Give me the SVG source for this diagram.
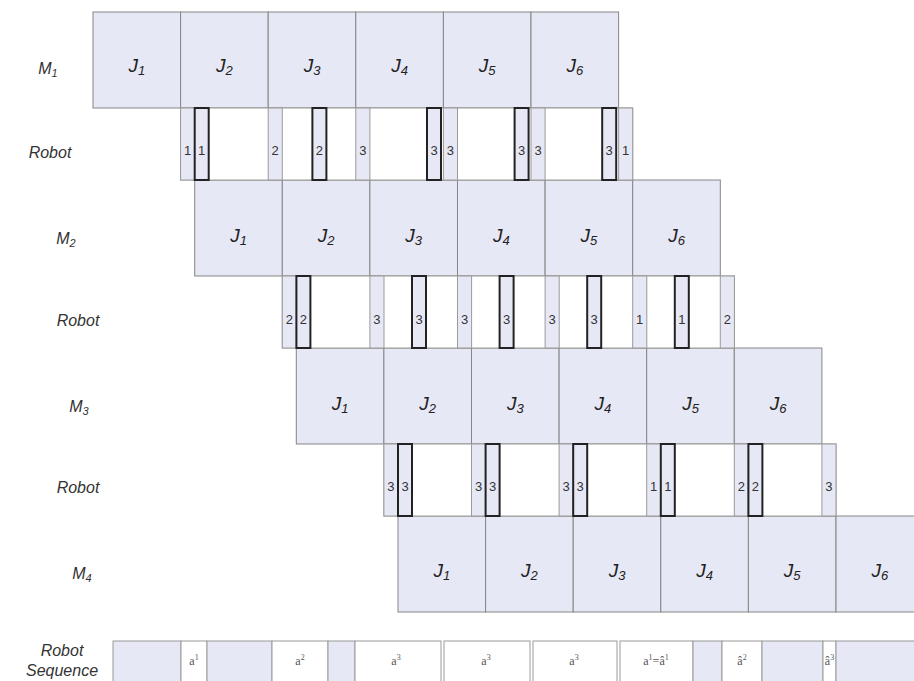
<svg xmlns="http://www.w3.org/2000/svg" width="914" height="681" viewBox="0 0 914 681">
<style>
.cell{fill:#e7e8f5;stroke:#858585;stroke-width:1}
.lt{fill:#e7e8f5;stroke:#9a9a9a;stroke-width:1}
.wt{fill:#ffffff;stroke:#9a9a9a;stroke-width:1}
.dk{fill:#e7e8f5;stroke:#222;stroke-width:2}
.lab{font-family:"Liberation Sans",Arial,sans-serif;font-style:italic;font-size:16px;fill:#333;text-anchor:middle}
.j{font-family:"Liberation Sans",Arial,sans-serif;font-style:italic;font-size:19px;fill:#222;text-anchor:middle}
.n{font-family:"Liberation Sans",Arial,sans-serif;font-size:13px;fill:#333;text-anchor:middle}
.sq{font-family:"Liberation Serif","Times New Roman",serif;font-size:12px;fill:#555;text-anchor:middle}
</style>
<rect width="914" height="681" fill="#ffffff"/>

<!-- Row labels -->
<g id="labels">
<text class="lab" x="48" y="74">M<tspan font-size="11" dy="3">1</tspan></text>
<text class="lab" x="50" y="158">Robot</text>
<text class="lab" x="66" y="244">M<tspan font-size="11" dy="3">2</tspan></text>
<text class="lab" x="78" y="326">Robot</text>
<text class="lab" x="79" y="412">M<tspan font-size="11" dy="3">3</tspan></text>
<text class="lab" x="78" y="493">Robot</text>
<text class="lab" x="82" y="579">M<tspan font-size="11" dy="3">4</tspan></text>
<text class="lab" x="62" y="656">Robot</text>
<text class="lab" x="62" y="676">Sequence</text>
</g>

<!-- Machine M1 -->
<g id="M1">
<rect class="cell" x="93" y="12" width="87.6" height="96"/>
<rect class="cell" x="180.6" y="12" width="87.6" height="96"/>
<rect class="cell" x="268.2" y="12" width="87.6" height="96"/>
<rect class="cell" x="355.8" y="12" width="87.6" height="96"/>
<rect class="cell" x="443.4" y="12" width="87.6" height="96"/>
<rect class="cell" x="531" y="12" width="87.6" height="96"/>
<text class="j" x="136.8" y="72">J<tspan font-size="13" dy="3">1</tspan></text>
<text class="j" x="224.4" y="72">J<tspan font-size="13" dy="3">2</tspan></text>
<text class="j" x="312" y="72">J<tspan font-size="13" dy="3">3</tspan></text>
<text class="j" x="399.6" y="72">J<tspan font-size="13" dy="3">4</tspan></text>
<text class="j" x="487.2" y="72">J<tspan font-size="13" dy="3">5</tspan></text>
<text class="j" x="574.8" y="72">J<tspan font-size="13" dy="3">6</tspan></text>
</g>

<!-- Machine M2 -->
<g id="M2">
<rect class="cell" x="194.7" y="180" width="87.6" height="96"/>
<rect class="cell" x="282.3" y="180" width="87.6" height="96"/>
<rect class="cell" x="369.9" y="180" width="87.6" height="96"/>
<rect class="cell" x="457.5" y="180" width="87.6" height="96"/>
<rect class="cell" x="545.1" y="180" width="87.6" height="96"/>
<rect class="cell" x="632.7" y="180" width="87.6" height="96"/>
<text class="j" x="238.5" y="242">J<tspan font-size="13" dy="3">1</tspan></text>
<text class="j" x="326.1" y="242">J<tspan font-size="13" dy="3">2</tspan></text>
<text class="j" x="413.7" y="242">J<tspan font-size="13" dy="3">3</tspan></text>
<text class="j" x="501.3" y="242">J<tspan font-size="13" dy="3">4</tspan></text>
<text class="j" x="588.9" y="242">J<tspan font-size="13" dy="3">5</tspan></text>
<text class="j" x="676.5" y="242">J<tspan font-size="13" dy="3">6</tspan></text>
</g>

<!-- Machine M3 -->
<g id="M3">
<rect class="cell" x="296.3" y="348" width="87.6" height="96"/>
<rect class="cell" x="383.9" y="348" width="87.6" height="96"/>
<rect class="cell" x="471.5" y="348" width="87.6" height="96"/>
<rect class="cell" x="559.1" y="348" width="87.6" height="96"/>
<rect class="cell" x="646.7" y="348" width="87.6" height="96"/>
<rect class="cell" x="734.3" y="348" width="87.6" height="96"/>
<text class="j" x="340.1" y="410">J<tspan font-size="13" dy="3">1</tspan></text>
<text class="j" x="427.7" y="410">J<tspan font-size="13" dy="3">2</tspan></text>
<text class="j" x="515.3" y="410">J<tspan font-size="13" dy="3">3</tspan></text>
<text class="j" x="602.9" y="410">J<tspan font-size="13" dy="3">4</tspan></text>
<text class="j" x="690.5" y="410">J<tspan font-size="13" dy="3">5</tspan></text>
<text class="j" x="778.1" y="410">J<tspan font-size="13" dy="3">6</tspan></text>
</g>

<!-- Machine M4 -->
<g id="M4">
<rect class="cell" x="398" y="516" width="87.6" height="96"/>
<rect class="cell" x="485.6" y="516" width="87.6" height="96"/>
<rect class="cell" x="573.2" y="516" width="87.6" height="96"/>
<rect class="cell" x="660.8" y="516" width="87.6" height="96"/>
<rect class="cell" x="748.4" y="516" width="87.6" height="96"/>
<rect class="cell" x="836" y="516" width="87.6" height="96"/>
<text class="j" x="441.8" y="577">J<tspan font-size="13" dy="3">1</tspan></text>
<text class="j" x="529.4" y="577">J<tspan font-size="13" dy="3">2</tspan></text>
<text class="j" x="617" y="577">J<tspan font-size="13" dy="3">3</tspan></text>
<text class="j" x="704.6" y="577">J<tspan font-size="13" dy="3">4</tspan></text>
<text class="j" x="792.2" y="577">J<tspan font-size="13" dy="3">5</tspan></text>
<text class="j" x="879.8" y="577">J<tspan font-size="13" dy="3">6</tspan></text>
</g>

<!-- Robot row 1 -->
<g id="robot1">
<rect class="wt" x="180.6" y="108" width="452.1" height="72"/>
<rect class="lt" x="180.6" y="108" width="14.1" height="72"/>
<rect class="lt" x="268.2" y="108" width="14.1" height="72"/>
<rect class="lt" x="355.8" y="108" width="14.1" height="72"/>
<rect class="lt" x="443.4" y="108" width="14.1" height="72"/>
<rect class="lt" x="531" y="108" width="14.1" height="72"/>
<rect class="lt" x="618.6" y="108" width="14.1" height="72"/>
<rect class="dk" x="194.7" y="108" width="14" height="72"/>
<rect class="dk" x="312.4" y="108" width="14" height="72"/>
<rect class="dk" x="427" y="108" width="14" height="72"/>
<rect class="dk" x="514.6" y="108" width="14" height="72"/>
<rect class="dk" x="602.2" y="108" width="14" height="72"/>
<text class="n" x="187.6" y="155">1</text>
<text class="n" x="275.2" y="155">2</text>
<text class="n" x="362.8" y="155">3</text>
<text class="n" x="450.4" y="155">3</text>
<text class="n" x="538" y="155">3</text>
<text class="n" x="625.6" y="155">1</text>
<text class="n" x="201.7" y="155">1</text>
<text class="n" x="319.4" y="155">2</text>
<text class="n" x="434" y="155">3</text>
<text class="n" x="521.6" y="155">3</text>
<text class="n" x="609.2" y="155">3</text>
</g>

<!-- Robot row 2 -->
<g id="robot2">
<rect class="wt" x="282.3" y="276" width="452.1" height="72"/>
<rect class="lt" x="282.3" y="276" width="14.1" height="72"/>
<rect class="lt" x="369.9" y="276" width="14.1" height="72"/>
<rect class="lt" x="457.5" y="276" width="14.1" height="72"/>
<rect class="lt" x="545.1" y="276" width="14.1" height="72"/>
<rect class="lt" x="632.7" y="276" width="14.1" height="72"/>
<rect class="lt" x="720.3" y="276" width="14.1" height="72"/>
<rect class="dk" x="296.4" y="276" width="14" height="72"/>
<rect class="dk" x="412" y="276" width="14" height="72"/>
<rect class="dk" x="499.6" y="276" width="14" height="72"/>
<rect class="dk" x="587.2" y="276" width="14" height="72"/>
<rect class="dk" x="674.8" y="276" width="14" height="72"/>
<text class="n" x="289.3" y="324">2</text>
<text class="n" x="376.9" y="324">3</text>
<text class="n" x="464.5" y="324">3</text>
<text class="n" x="552.1" y="324">3</text>
<text class="n" x="639.7" y="324">1</text>
<text class="n" x="727.3" y="324">2</text>
<text class="n" x="303.4" y="324">2</text>
<text class="n" x="419" y="324">3</text>
<text class="n" x="506.6" y="324">3</text>
<text class="n" x="594.2" y="324">3</text>
<text class="n" x="681.8" y="324">1</text>
</g>

<!-- Robot row 3 -->
<g id="robot3">
<rect class="wt" x="383.9" y="444" width="452.1" height="72"/>
<rect class="lt" x="383.9" y="444" width="14.1" height="72"/>
<rect class="lt" x="471.5" y="444" width="14.1" height="72"/>
<rect class="lt" x="559.1" y="444" width="14.1" height="72"/>
<rect class="lt" x="646.7" y="444" width="14.1" height="72"/>
<rect class="lt" x="734.3" y="444" width="14.1" height="72"/>
<rect class="lt" x="821.9" y="444" width="14.1" height="72"/>
<rect class="dk" x="398" y="444" width="14" height="72"/>
<rect class="dk" x="485.6" y="444" width="14" height="72"/>
<rect class="dk" x="573.2" y="444" width="14" height="72"/>
<rect class="dk" x="660.8" y="444" width="14" height="72"/>
<rect class="dk" x="748.4" y="444" width="14" height="72"/>
<text class="n" x="390.9" y="491">3</text>
<text class="n" x="478.5" y="491">3</text>
<text class="n" x="566.1" y="491">3</text>
<text class="n" x="653.7" y="491">1</text>
<text class="n" x="741.3" y="491">2</text>
<text class="n" x="828.9" y="491">3</text>
<text class="n" x="405" y="491">3</text>
<text class="n" x="492.6" y="491">3</text>
<text class="n" x="580.2" y="491">3</text>
<text class="n" x="667.8" y="491">1</text>
<text class="n" x="755.4" y="491">2</text>
</g>

<!-- Robot sequence -->
<g id="sequence">
<rect class="lt" x="113" y="641" width="68" height="50"/>
<rect class="wt" x="181" y="641" width="26" height="50"/>
<rect class="lt" x="207" y="641" width="65" height="50"/>
<rect class="wt" x="272" y="641" width="56" height="50"/>
<rect class="lt" x="328" y="641" width="27" height="50"/>
<rect class="wt" x="355" y="641" width="86" height="50"/>
<rect class="wt" x="444" y="641" width="86" height="50"/>
<rect class="wt" x="533" y="641" width="84" height="50"/>
<rect class="wt" x="620" y="641" width="73" height="50"/>
<rect class="lt" x="693" y="641" width="29" height="50"/>
<rect class="wt" x="722" y="641" width="40" height="50"/>
<rect class="lt" x="762" y="641" width="61" height="50"/>
<rect class="wt" x="823" y="641" width="13" height="50"/>
<rect class="lt" x="836" y="641" width="90" height="50"/>
<text class="sq" x="194" y="665">a<tspan font-size="8" dy="-5">1</tspan></text>
<text class="sq" x="300" y="665">a<tspan font-size="8" dy="-5">2</tspan></text>
<text class="sq" x="396" y="665">a<tspan font-size="8" dy="-5">3</tspan></text>
<text class="sq" x="486" y="665">a<tspan font-size="8" dy="-5">3</tspan></text>
<text class="sq" x="574" y="665">a<tspan font-size="8" dy="-5">3</tspan></text>
<text class="sq" x="656" y="665">a<tspan font-size="8" dy="-5">1</tspan><tspan dy="5">=â</tspan><tspan font-size="8" dy="-5">1</tspan></text>
<text class="sq" x="742" y="665">â<tspan font-size="8" dy="-5">2</tspan></text>
<text class="sq" x="829.5" y="665">â<tspan font-size="8" dy="-5">3</tspan></text>
</g>
</svg>
